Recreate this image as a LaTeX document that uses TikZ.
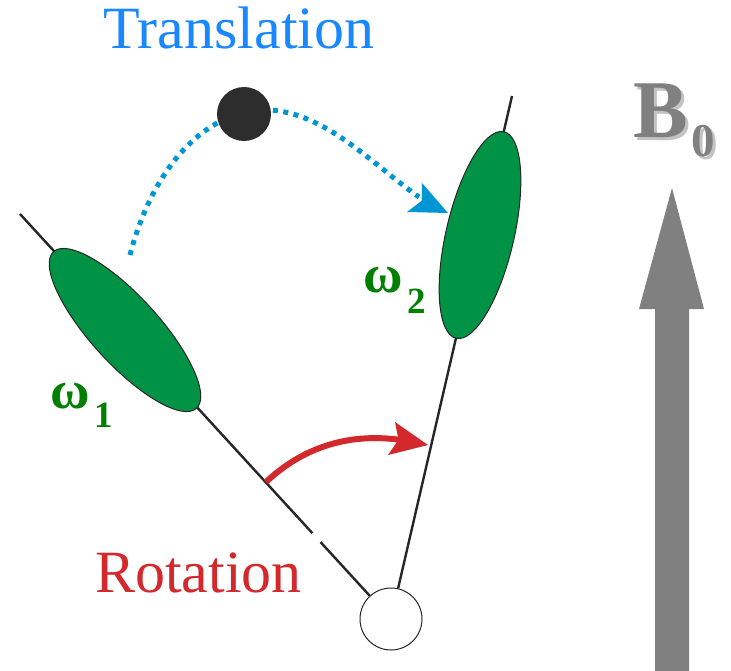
\documentclass[tikz,border=0pt]{standalone}
\usepackage{fontspec}
\setmainfont{Liberation Serif}
\newfontfamily\timesfam{Liberation Serif}
\usetikzlibrary{calc}

\definecolor{transblue}{RGB}{25,136,255}
\definecolor{dotblue}{RGB}{0,150,212}
\definecolor{rotred}{RGB}{211,41,45}
\definecolor{spingreen}{RGB}{0,146,69}
\definecolor{labelgreen}{RGB}{0,128,0}
\definecolor{fieldgray}{RGB}{128,128,128}
\definecolor{shadowgray}{RGB}{195,195,195}
\definecolor{dotblack}{RGB}{45,45,45}
\definecolor{axisblack}{RGB}{38,38,38}

% a glyph with a light drop shadow behind it
\newcommand\shadowed[1]{\rlap{\kern3pt\raisebox{-3pt}{\textcolor{shadowgray}{#1}}}#1}

\begin{document}
\begin{tikzpicture}[x=1pt,y=-1pt,
  axis/.style={line width=2.4pt,draw=axisblack},
  spin/.style={draw=axisblack,line width=1pt,fill=spingreen},
  tag/.style={inner sep=0pt,anchor=base west},
  transpath/.style={draw=dotblue,line width=5pt,dash pattern=on 5pt off 5.5pt},
  rotpath/.style={draw=rotred,line width=6pt},
]
\useasboundingbox (0,0) rectangle (731,671);

% rotation axes through the pivot
\coordinate (l1top) at (20,214);
\coordinate (l2top) at (512,96);
\node[circle,draw=axisblack,line width=1pt,fill=white,minimum size=62pt,inner sep=0pt] (pivot) at (391,619) {};
\coordinate (gapA) at ($(l1top)!0.788!(pivot)$);
\coordinate (gapB) at ($(l1top)!0.810!(pivot)$);
\draw[axis] (l1top) -- (gapA);
\draw[axis] (gapB) -- (pivot);
\draw[axis] (pivot) -- (l2top);

% spins
\coordinate (spin1) at (125,330);
\coordinate (spin2) at (480,235);
\path[spin] (spin1) ellipse [x radius=106, y radius=34, rotate=-47.6];
\path[spin] (spin2) ellipse [x radius=106, y radius=34, rotate=76.97];

% translation path, passing behind the moving particle
\coordinate (tstart) at (130,255);
\coordinate (tpeak) at (255,110);
\coordinate (tend) at (419,197);
\coordinate (ttip) at (448,213);
\draw[transpath] (tstart) .. controls (148,185) and (190,120) .. (tpeak)
  .. controls (320,105) and (370,163) .. (tend);
\fill[dotblue] (ttip) -- (422,183) -- (421.7,200.8) -- (407,212) -- cycle;
\node[circle,fill=dotblack,minimum size=54pt,inner sep=0pt] (particle) at (244,114) {};

% rotation arrow
\coordinate (rstart) at (266,482);
\coordinate (rend) at (401,440);
\coordinate (rtip) at (428,445);
\draw[rotpath] (rstart) .. controls (300,450) and (345,432) .. (rend);
\fill[rotred] (rtip) -- (395,422) -- (398.5,439.7) -- (388,455) -- cycle;

% labels
\node[font=\timesfam\fontsize{60pt}{60pt}\selectfont,text=transblue,tag] (translabel) at (103,49) {Translation};
\node[font=\timesfam\fontsize{60pt}{60pt}\selectfont,text=rotred,tag] (rotlabel) at (95,592) {Rotation};
\node[font=\timesfam\bfseries\fontsize{54pt}{54pt}\selectfont,text=labelgreen,tag] (omega1) at (50,408) {ω};
\node[font=\timesfam\bfseries\fontsize{37pt}{37pt}\selectfont,text=labelgreen,tag] (sub1) at (94,427) {1};
\node[font=\timesfam\bfseries\fontsize{54pt}{54pt}\selectfont,text=labelgreen,tag] (omega2) at (363,292) {ω};
\node[font=\timesfam\bfseries\fontsize{37pt}{37pt}\selectfont,text=labelgreen,tag] (sub2) at (407,313) {2};

% static field arrow
\fill[fieldgray] (655,671) -- (655,309) -- (639,309) -- (672,188) -- (704,309)
  -- (689,309) -- (689,671) -- cycle;
\node[font=\timesfam\bfseries\fontsize{82pt}{82pt}\selectfont,text=fieldgray,tag] (bfield) at (633,138) {\shadowed{B}};
\node[font=\timesfam\bfseries\fontsize{47pt}{47pt}\selectfont,text=fieldgray,tag] (sfield) at (691,157) {\shadowed{0}};
\end{tikzpicture}
\end{document}
